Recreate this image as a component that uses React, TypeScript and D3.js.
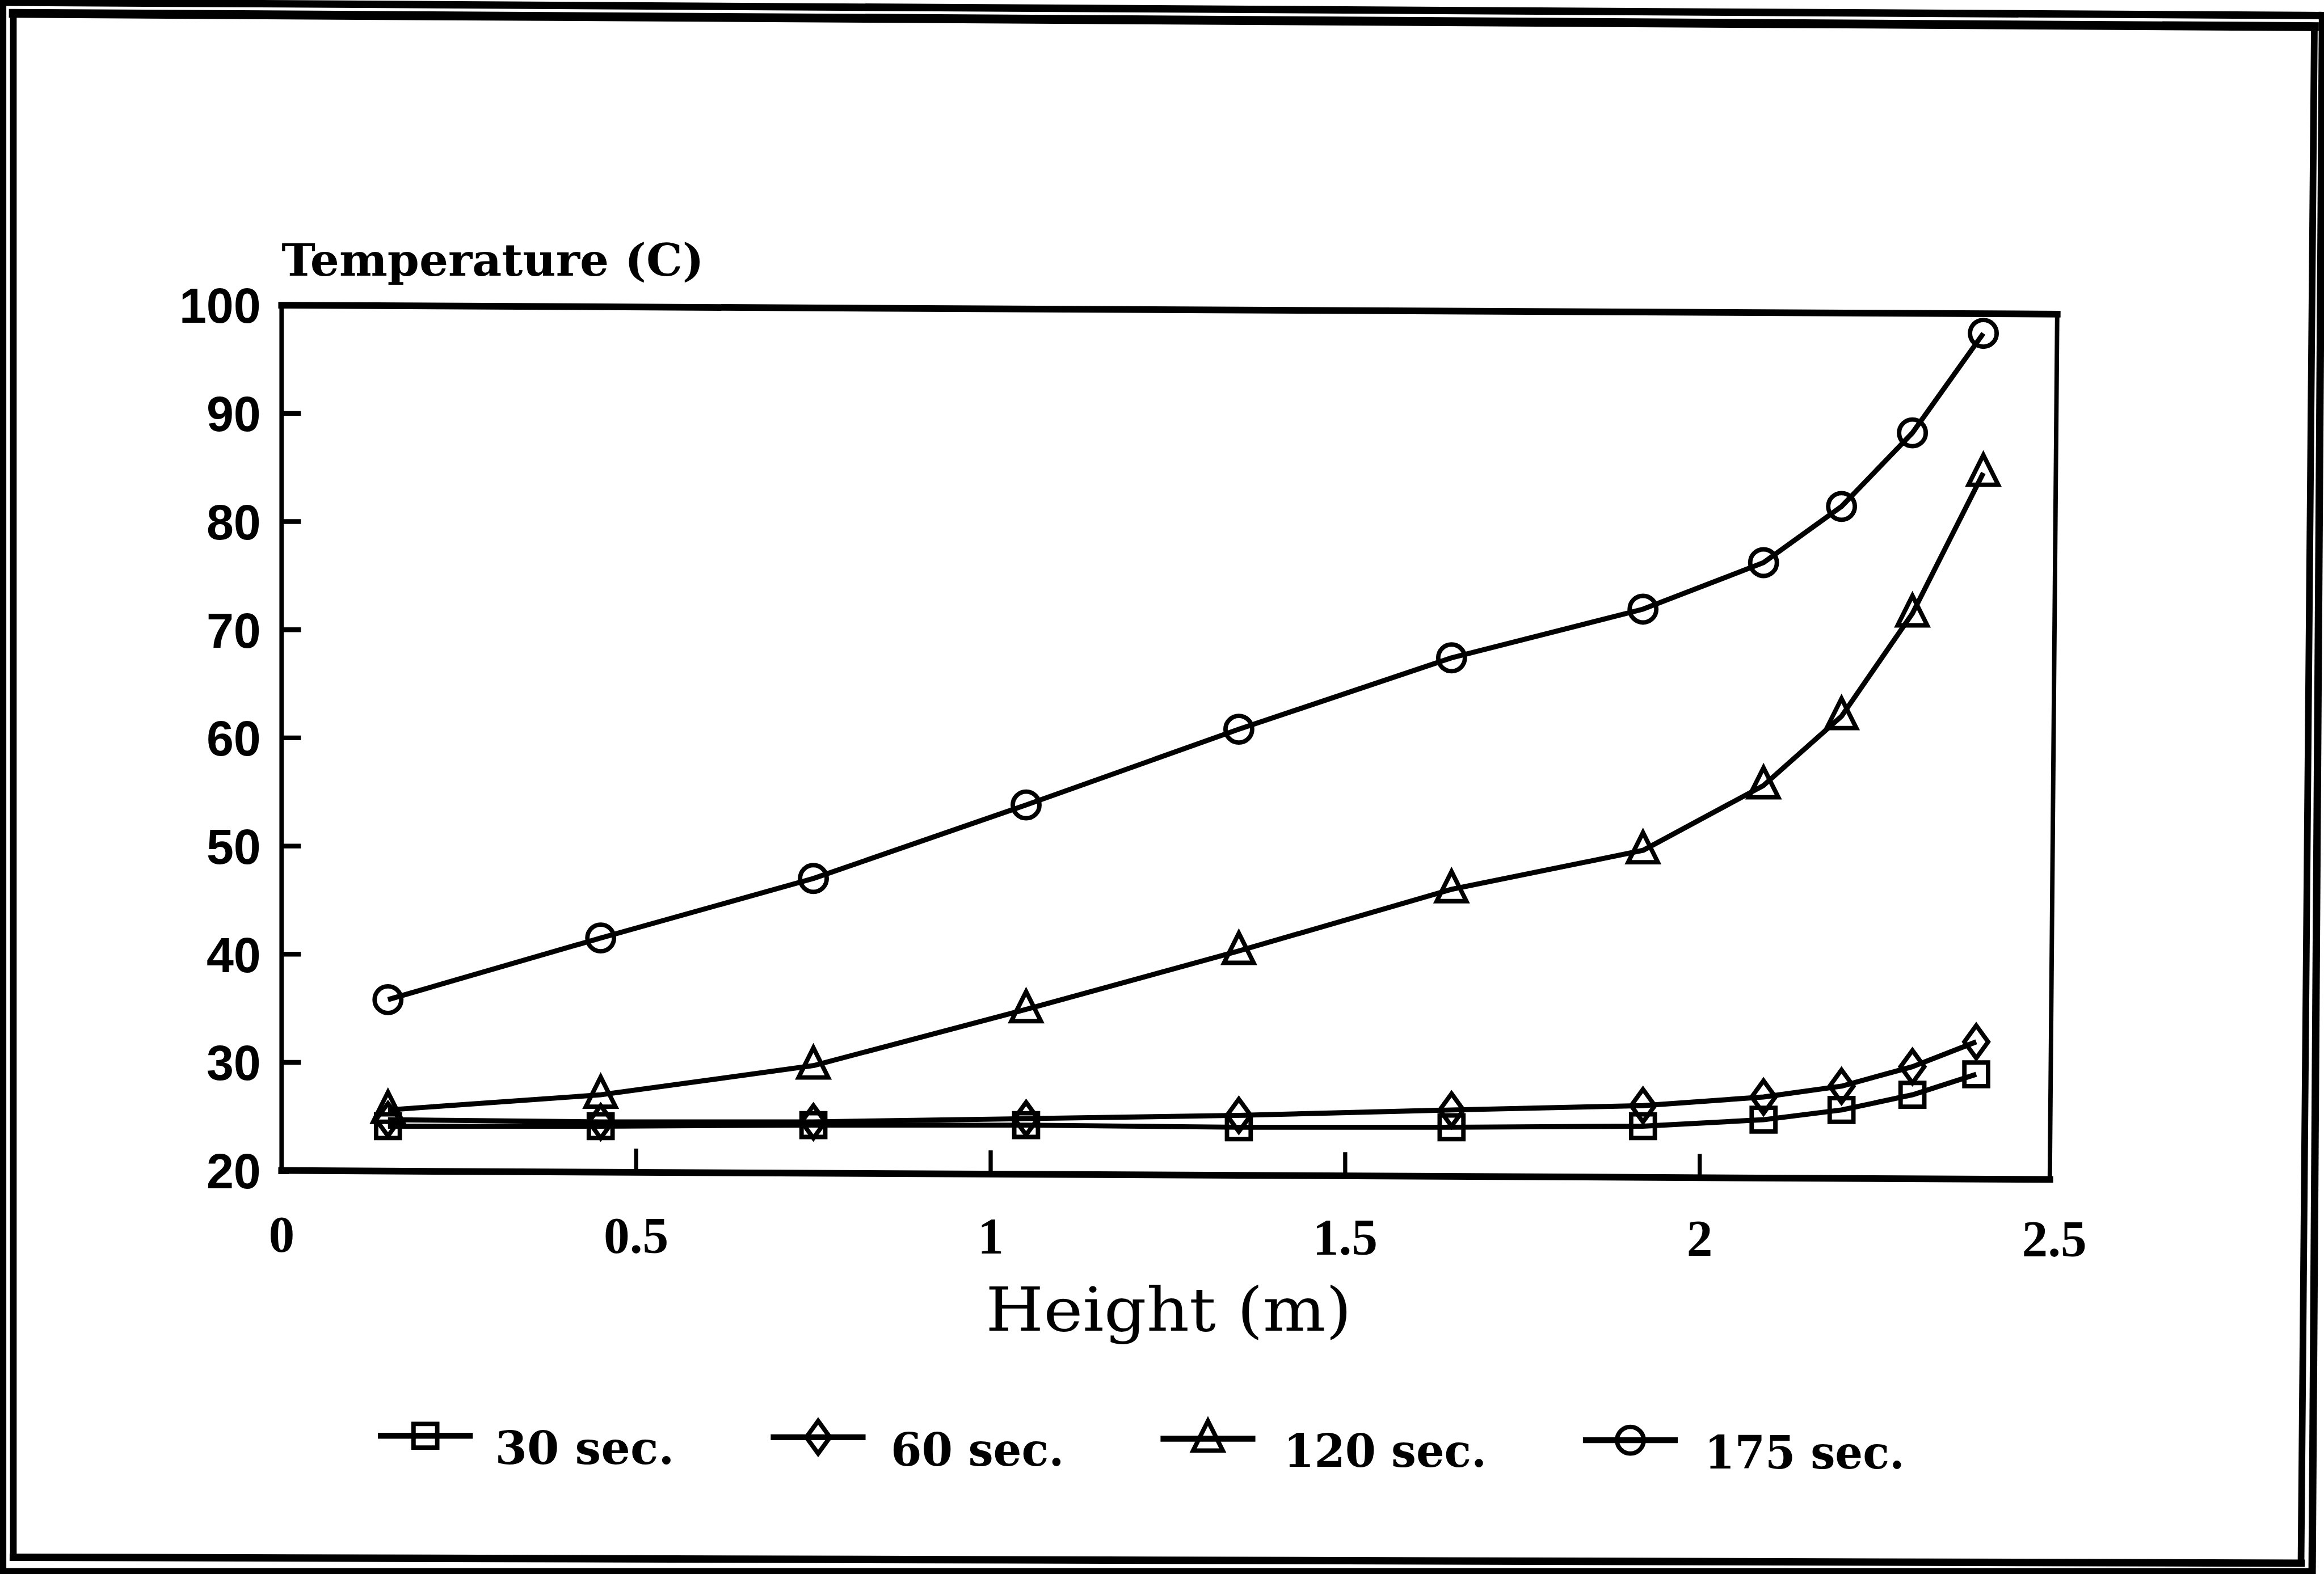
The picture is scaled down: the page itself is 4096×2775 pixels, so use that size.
import React from 'react';
import * as d3 from 'd3';

// reference was drawn at 1568 wide, everything below is in those units and scaled up
const K = 4096 / 1568;

const heights = [0.15, 0.45, 0.75, 1.05, 1.35, 1.65, 1.92, 2.09, 2.2, 2.3, 2.4];
const heightsLow = [0.15, 0.45, 0.75, 1.05, 1.35, 1.65, 1.92, 2.09, 2.2, 2.3, 2.39];

const temp30 = [24.1, 24.1, 24.2, 24.2, 24.0, 24.0, 24.1, 24.7, 25.6, 27.0, 28.9];
const temp60 = [24.7, 24.5, 24.5, 24.8, 25.1, 25.6, 26.0, 26.8, 27.8, 29.6, 31.9];
const temp120 = [25.6, 27.0, 29.7, 34.9, 40.3, 46.0, 49.6, 55.6, 62.0, 71.5, 84.5];
const temp175 = [35.8, 41.5, 47.0, 53.8, 60.8, 67.4, 71.9, 76.2, 81.4, 88.2, 97.4];

const seriesNames = ['30 sec.', '60 sec.', '120 sec.', '175 sec.'];
const seriesMarkers = ['square', 'diamond', 'triangle', 'circle'];

const xTicks = [0, 0.5, 1, 1.5, 2, 2.5];
const xTickLabels = ['0', '0.5', '1', '1.5', '2', '2.5'];
const yTicks = [20, 30, 40, 50, 60, 70, 80, 90, 100];

const left = 190, right = 1386, top = 206, bottom = 790;
// the scan is a little skewed: right edge of the frame sits lower and further left
const skewY = 6, skewX = -5;

const x = d3.scaleLinear().domain([0, 2.5]).range([left, right]);
const y = d3.scaleLinear().domain([20, 100]).range([bottom, top]);

function markerPath(kind: string) {
    if (kind === 'square') return 'M-8,-8H8V8H-8Z';
    if (kind === 'diamond') return 'M0,-11L8,0L0,11L-8,0Z';
    if (kind === 'triangle') return 'M0,-12L10,8H-10Z';
    const p = d3.path();
    p.arc(0, 0, 9, 0, Math.PI * 2);
    return p.toString();
}

const Marker = ({ kind, cx, cy }: { kind: string; cx: number; cy: number }) => (
    <path d={markerPath(kind)} transform={`translate(${cx},${cy})`}
        fill="none" stroke="#000" strokeWidth={3} />
);

type Side = [number, number, number, number, number];
const Sides = ({ sides }: { sides: Side[] }) => (
    <g stroke="#000" strokeLinecap="square">
        {sides.map((s, i) => <line key={i} x1={s[0]} y1={s[1]} x2={s[2]} y2={s[3]} strokeWidth={s[4]} />)}
    </g>
);

export default function App() {
    const series = [
        { xs: heightsLow, ys: temp30 },
        { xs: heightsLow, ys: temp60 },
        { xs: heights, ys: temp120 },
        { xs: heights, ys: temp175 },
    ];
    const line = d3.line<[number, number]>().x(d => x(d[0])).y(d => y(d[1]));

    const legendLine = [255, 520, 783, 1068];
    const legendText = [334, 601, 866, 1150];
    const legendWidth = [121, 117, 137, 135];
    const legendY = [969, 970, 971, 972];

    const bottomAt = (px: number) => bottom + (px - left) / (right - left) * skewY;

    const outer: Side[] = [
        [2, 1.5, 1567, 10.5, 5],
        [1567, 10.5, 1560, 1060.5, 5],
        [1560, 1060.5, 2, 1060.5, 4.5],
        [2, 1060.5, 2, 1.5, 4.5],
    ];
    const inner: Side[] = [
        [9, 9, 1561.5, 18, 6],
        [1561.5, 18, 1552.5, 1055, 4.5],
        [1552.5, 1055, 9, 1051, 5],
        [9, 1051, 9, 9, 4.5],
    ];
    const frame: Side[] = [
        [left, top, right + 2, top + skewY, 4.5],
        [right + 2, top + skewY, right + 2 + skewX, bottom + skewY, 3],
        [right + 2 + skewX, bottom + skewY, left, bottom, 4.5],
        [left, bottom, left, top, 3],
    ];

    return (
        <svg width={4096} height={2775} style={{ position: 'absolute', left: 0, top: 0 }}>
            <rect width={4096} height={2775} fill="#fff" />
            <g transform={`scale(${K})`}>
                <Sides sides={outer} />
                <Sides sides={inner} />
                <Sides sides={frame} />

                {yTicks.map(t => (
                    <g key={'y' + t}>
                        {t > 20 && t < 100 && (
                            <line x1={left} x2={left + 13} y1={y(t)} y2={y(t)} stroke="#000" strokeWidth={3.2} />
                        )}
                        <text x={176} y={y(t) + 12} textAnchor="end" fontFamily="Liberation Sans" fontWeight="bold" fontSize={33}>{t}</text>
                    </g>
                ))}
                {xTicks.map((t, i) => (
                    <g key={'x' + t}>
                        {t > 0 && t < 2.5 && (
                            <line x1={x(t)} x2={x(t)} y1={bottomAt(x(t))} y2={bottomAt(x(t)) - 16} stroke="#000" strokeWidth={2.8} />
                        )}
                        <text x={x(t)} y={845 + (x(t) - left) / (right - left) * 3} textAnchor="middle"
                            fontFamily="Liberation Serif" fontWeight="bold" fontSize={35}>{xTickLabels[i]}</text>
                    </g>
                ))}

                <text x={190} y={186} fontFamily="DejaVu Serif" fontWeight="bold" fontSize={30}
                    textLength={285} lengthAdjust="spacingAndGlyphs">Temperature (C)</text>
                <text x={665} y={898} fontFamily="DejaVu Serif" fontSize={41}
                    textLength={247} lengthAdjust="spacingAndGlyphs">Height (m)</text>

                {series.map((s, i) => {
                    const pts = s.xs.map((h, j) => [h, s.ys[j]] as [number, number]);
                    return (
                        <g key={'s' + i}>
                            <path d={line(pts) || ''} fill="none" stroke="#000" strokeWidth={3.4} strokeLinejoin="round" />
                            {pts.map((p, j) => (
                                <Marker key={j} kind={seriesMarkers[i]} cx={x(p[0])} cy={y(p[1])} />
                            ))}
                        </g>
                    );
                })}

                {seriesNames.map((name, i) => (
                    <g key={'l' + i}>
                        <line x1={legendLine[i]} x2={legendLine[i] + 64} y1={legendY[i]} y2={legendY[i]} stroke="#000" strokeWidth={4} />
                        <Marker kind={seriesMarkers[i]} cx={legendLine[i] + 32} cy={legendY[i]} />
                        <text x={legendText[i]} y={legendY[i] + 19} fontFamily="DejaVu Serif" fontWeight="bold" fontSize={31}
                            textLength={legendWidth[i]} lengthAdjust="spacingAndGlyphs">{name}</text>
                    </g>
                ))}
            </g>
        </svg>
    );
}
